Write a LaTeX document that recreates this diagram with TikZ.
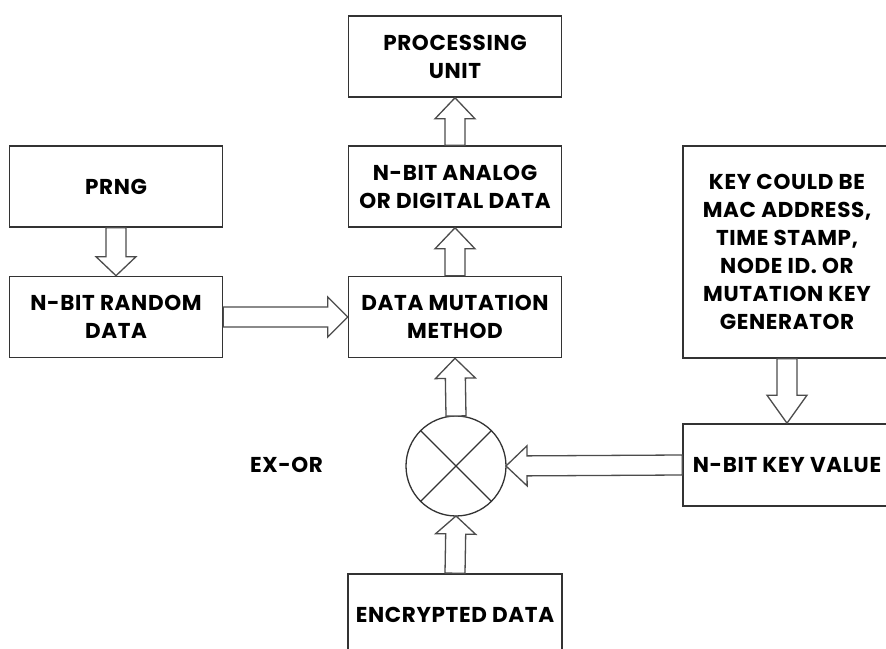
\documentclass[tikz,border=0pt]{standalone}
\usepackage{fontspec}
\setmainfont{Poppins}[LetterSpace=3]
\usetikzlibrary{calc}
\tikzset{
  box/.style={draw=black!80, line width=1.6pt, minimum width=213pt, minimum height=81pt,
    align=center, font=\fontsize{21.5}{28}\selectfont\bfseries, inner sep=0pt, fill=white},
  barrow/.style={draw=black!70, line width=1.3pt, fill=white, line join=miter},
  xorc/.style={circle, draw=black!80, line width=1.3pt, minimum size=100pt, inner sep=0pt, outer sep=0pt},
  lbl/.style={font=\fontsize{21.5}{28}\selectfont\bfseries},
}
% block arrow: [head length]{from}{to}
\newcommand\barr[3][20]{%
  \draw[barrow] let \p1=($(#3)-(#2)$), \n1={veclen(\x1,\y1)}, \n2={atan2(\y1,\x1)}, \n3={\n1-#1} in
    ([shift={(#2)},rotate=\n2]0,-10) -- ([shift={(#2)},rotate=\n2]\n3,-10) --
    ([shift={(#2)},rotate=\n2]\n3,-20) -- (#3) --
    ([shift={(#2)},rotate=\n2]\n3,20) -- ([shift={(#2)},rotate=\n2]\n3,10) --
    ([shift={(#2)},rotate=\n2]0,10) -- cycle;}
\begin{document}
\begin{tikzpicture}[x=1pt,y=1pt]
\useasboundingbox (0,0) rectangle (886,648);
\clip (0,0) rectangle (886,648);
\fill[white] (0,0) rectangle (886,648);
\node[box] (pu)  at (455,591.5) {PROCESSING\\UNIT};
\node[box] (ana) at (455,461.5) {N-BIT ANALOG\\OR DIGITAL DATA};
\node[box] (dmm) at (455,331) {DATA MUTATION\\METHOD};
\node[box] (prng) at (116,461.5) {PRNG};
\node[box] (rnd) at (116,331) {N-BIT RANDOM\\DATA};
\node[box, minimum width=208pt, minimum height=212pt] (key) at (787,396) {KEY COULD BE\\MAC ADDRESS,\\TIME STAMP,\\NODE ID. OR\\MUTATION KEY\\GENERATOR};
\node[box, minimum width=208pt, minimum height=82pt] (kv) at (787,183) {N-BIT KEY VALUE};
\node[box, minimum width=214pt, minimum height=82pt] (enc) at (455,33) {ENCRYPTED DATA};
\node[xorc] (x) at (456,182) {};
\draw[black!80, line width=1.3pt] (x.north west) -- (x.south east) (x.north east) -- (x.south west);
\node[lbl] (exor) at (286.5,183) {EX-OR};
\barr[19]{prng.south}{rnd.north}
\barr[20]{rnd.east}{dmm.west}
\barr[21]{dmm.north}{ana.south}
\barr[21]{ana.north}{pu.south}
\barr[20]{x.north}{dmm.south}
\barr[21]{kv.west}{x.east}
\barr[18]{enc.north}{x.south}
\barr[28]{key.south}{kv.north}
\end{tikzpicture}
\end{document}
